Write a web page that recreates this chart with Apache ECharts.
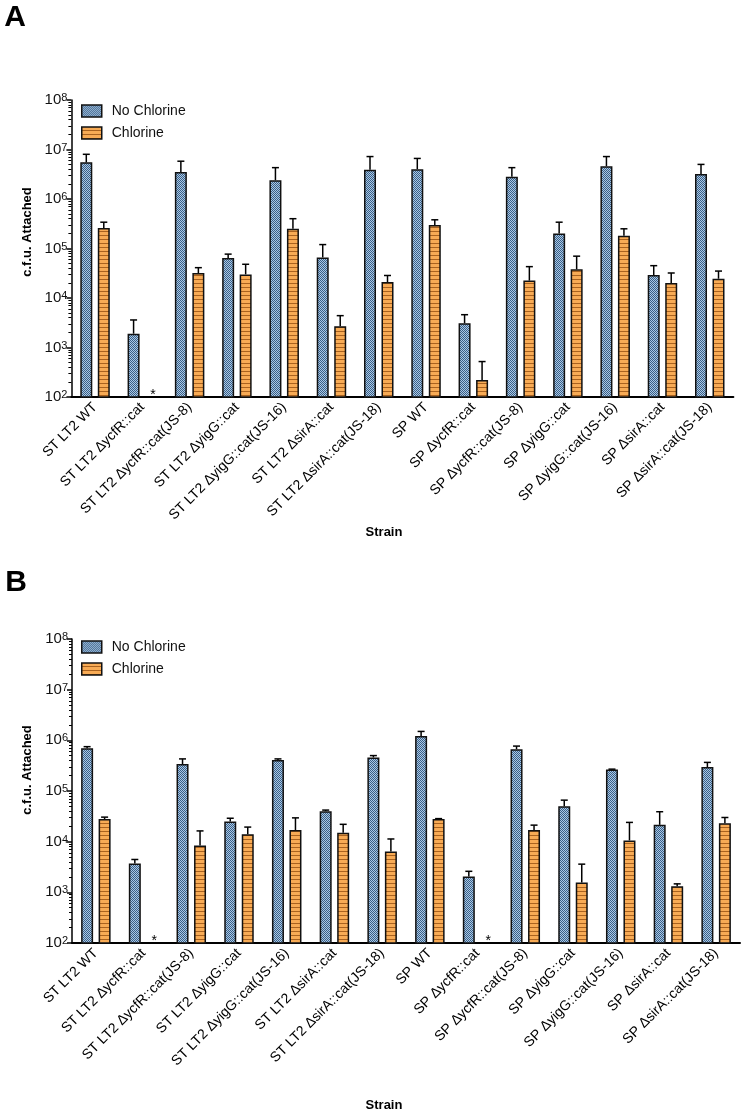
<!DOCTYPE html>
<html><head><meta charset="utf-8">
<script src="https://cdn.jsdelivr.net/npm/echarts@6/dist/echarts.min.js"></script>
<style>html,body{margin:0;padding:0;background:#fff}#c{width:744px;height:1114px}</style>
</head><body><div id="c"></div>
<script>
const categories = ['ST LT2 WT','ST LT2 ΔycfR::cat','ST LT2 ΔycfR::cat(JS-8)','ST LT2 ΔyigG::cat','ST LT2 ΔyigG::cat(JS-16)','ST LT2 ΔsirA::cat','ST LT2 ΔsirA::cat(JS-18)','SP WT','SP ΔycfR::cat','SP ΔycfR::cat(JS-8)','SP ΔyigG::cat','SP ΔyigG::cat(JS-16)','SP ΔsirA::cat','SP ΔsirA::cat(JS-18)'];
const seriesNames = ['No Chlorine', 'Chlorine'];
const yTickExponents = ['2','3','4','5','6','7','8'];
const minorTickMultipliers = [2,3,4,5,6,7,8,9];

// Panel A
const aNoChlorine    = [5.5e6, 1.9e3, 3.5e6, 6.4e4, 2.4e6, 6.6e4, 3.9e6, 4.0e6, 3.1e3, 2.8e6, 2.0e5, 4.6e6, 2.9e4, 3.2e6];
const aNoChlorineErr = [8.0e6, 3.6e3, 5.8e6, 7.7e4, 4.3e6, 1.2e5, 7.2e6, 6.6e6, 4.6e3, 4.3e6, 3.4e5, 7.2e6, 4.5e4, 5.0e6];
const aChlorine      = [2.6e5, null, 3.2e4, 3.0e4, 2.5e5, 2.7e3, 2.1e4, 3.0e5, 2.2e2, 2.25e4, 3.8e4, 1.8e5, 2.0e4, 2.45e4];
const aChlorineErr   = [3.4e5, null, 4.1e4, 4.8e4, 4.0e5, 4.4e3, 2.85e4, 3.8e5, 5.2e2, 4.3e4, 7.0e4, 2.5e5, 3.2e4, 3.5e4];
const aStars = [1];

// Panel B
const bNoChlorine    = [6.95e5, 3.7e3, 3.4e5, 2.5e4, 4.1e5, 4.0e4, 4.6e5, 1.22e6, 2.05e3, 6.7e5, 5.0e4, 2.67e5, 2.15e4, 2.97e5];
const bNoChlorineErr = [7.5e5, 4.45e3, 4.3e5, 2.9e4, 4.3e5, 4.2e4, 5.0e5, 1.5e6, 2.6e3, 7.7e5, 6.6e4, 2.7e5, 3.9e4, 3.67e5];
const bChlorine      = [2.8e4, null, 8.4e3, 1.4e4, 1.7e4, 1.5e4, 6.4e3, 2.8e4, null, 1.7e4, 1.56e3, 1.06e4, 1.32e3, 2.3e4];
const bChlorineErr   = [3.05e4, null, 1.63e4, 1.94e4, 2.95e4, 2.2e4, 1.13e4, 2.85e4, null, 2.12e4, 3.6e3, 2.4e4, 1.47e3, 3.0e4];
const bStars = [1, 8];

const FONT = '"Liberation Sans", Arial, Helvetica, sans-serif';

function makePattern(w, h, draw) {
  const c = document.createElement('canvas'); c.width = w; c.height = h;
  draw(c.getContext('2d'));
  return { image: c, repeat: 'repeat' };
}
const bluePat = makePattern(2, 2, ctx => {
  ctx.fillStyle = '#a9c8e6'; ctx.fillRect(0, 0, 2, 2);
  ctx.fillStyle = '#3b5f85'; ctx.fillRect(0, 0, 1, 1); ctx.fillRect(1, 1, 1, 1);
});
const orangePat = makePattern(1, 4, ctx => {
  ctx.fillStyle = '#f8ab55'; ctx.fillRect(0, 0, 1, 4);
  ctx.fillStyle = '#a9621f'; ctx.fillRect(0, 3, 1, 1);
});

const BAR_W = 12, BAR_GAP = 5.5, HALF = (BAR_W + BAR_GAP) / 2;

const minorLogs = [];
for (let n = 2; n < 8; n++) minorTickMultipliers.forEach(k => minorLogs.push(n + Math.log10(k)));

function errRender(offset) {
  return function (params, api) {
    const i = api.value(0), v = api.value(1), top = api.value(2);
    const p0 = api.coord([i, v]), p1 = api.coord([i, top]);
    const x = p0[0] + offset;
    const st = { stroke: '#000', lineWidth: 1.5 };
    return { type: 'group', children: [
      { type: 'line', shape: { x1: x, y1: p0[1], x2: x, y2: p1[1] }, style: st },
      { type: 'line', shape: { x1: x - 3.5, y1: p1[1], x2: x + 3.5, y2: p1[1] }, style: st }
    ]};
  };
}
function starRender(params, api) {
  const p = api.coord([api.value(0), 100]);
  return { type: 'text', x: p[0] + HALF + 2, y: p[1] - 2,
    style: { text: '*', font: '14px ' + FONT, fill: '#000', align: 'center', verticalAlign: 'middle', textAlign: 'center', textVerticalAlign: 'middle' } };
}
function errData(vals, errs) {
  const out = [];
  vals.forEach((v, i) => { if (v != null && errs[i] != null) out.push([i, v, errs[i]]); });
  return out;
}

function xAxisDef(g) {
  return { gridIndex: g, type: 'category', data: categories, boundaryGap: true,
    axisLine: { lineStyle: { color: '#000', width: 2 } },
    axisTick: { alignWithLabel: true, length: 5, lineStyle: { color: '#000', width: 1.5 } },
    axisLabel: { rotate: 45, interval: 0, fontSize: 14, color: '#000', margin: 8, fontFamily: FONT },
    splitLine: { show: false } };
}
function yAxisDefs(g) {
  return [
    { gridIndex: g, type: 'log', logBase: 10, min: 100, max: 1e8, splitNumber: 6,
      axisLine: { show: true, lineStyle: { color: '#000', width: 1.5 } },
      axisTick: { show: true, length: 5, lineStyle: { color: '#000', width: 1.5 } },
      axisLabel: { margin: 4, color: '#111',
        formatter: v => '{b|10}{s|' + yTickExponents[Math.round(Math.log10(v)) - 2] + '}',
        rich: { b: { fontSize: 15, fontFamily: FONT, color: '#111' },
                s: { fontSize: 11, fontFamily: FONT, color: '#111', verticalAlign: 'top' } } },
      splitLine: { show: false } },
    { gridIndex: g, type: 'value', min: 2, max: 8, position: 'left',
      axisLine: { show: false },
      axisTick: { show: true, length: 3, customValues: minorLogs, lineStyle: { color: '#000', width: 1 } },
      axisLabel: { show: false }, splitLine: { show: false } }
  ];
}
function panelSeries(g, nc, ncErr, c, cErr, stars) {
  const xi = g, yi = g * 2;
  return [
    { name: seriesNames[0], type: 'bar', xAxisIndex: xi, yAxisIndex: yi, data: nc, barWidth: BAR_W, barGap: (BAR_GAP / BAR_W * 100) + '%', clip: true,
      itemStyle: { color: bluePat, borderColor: '#111', borderWidth: 1.5 } },
    { name: seriesNames[1], type: 'bar', xAxisIndex: xi, yAxisIndex: yi, data: c.map(v => v == null ? '-' : v), barWidth: BAR_W, barGap: (BAR_GAP / BAR_W * 100) + '%', clip: true,
      itemStyle: { color: orangePat, borderColor: '#111', borderWidth: 1.5 } },
    { type: 'custom', xAxisIndex: xi, yAxisIndex: yi, renderItem: errRender(-HALF), data: errData(nc, ncErr), encode: { x: 0, y: 1 }, z: 5, silent: true },
    { type: 'custom', xAxisIndex: xi, yAxisIndex: yi, renderItem: errRender(HALF), data: errData(c, cErr), encode: { x: 0, y: 1 }, z: 5, silent: true },
    { type: 'custom', xAxisIndex: xi, yAxisIndex: yi, renderItem: starRender, data: stars.map(i => [i, 100]), encode: { x: 0, y: 1 }, z: 6, silent: true }
  ];
}
function legendDef(top) {
  return { data: seriesNames, orient: 'vertical', left: 81, top: top, padding: 0, itemWidth: 20, itemHeight: 12, itemGap: 8, icon: 'rect',
    itemStyle: { borderColor: '#111', borderWidth: 1.5 },
    textStyle: { fontSize: 14, color: '#111', fontFamily: FONT, lineHeight: 14, padding: [0, 0, 0, 5] }, selectedMode: false };
}
function txt(x, y, text, font, rot) {
  return { type: 'text', x: x, y: y, rotation: rot || 0,
    style: { text: text, font: font, fill: '#000', align: 'center', verticalAlign: 'middle', textAlign: 'center', textVerticalAlign: 'middle' } };
}

const chart = echarts.init(document.getElementById('c'), null, { renderer: 'canvas' });
chart.setOption({
  animation: false,
  backgroundColor: '#fff',
  grid: [
    { left: 71.4, top: 100, width: 662, height: 297, containLabel: false, outerBoundsMode: 'none' },
    { left: 72, top: 639, width: 668, height: 304, containLabel: false, outerBoundsMode: 'none' }
  ],
  xAxis: [xAxisDef(0), xAxisDef(1)],
  yAxis: [...yAxisDefs(0), ...yAxisDefs(1)],
  legend: [legendDef(104), legendDef(640)],
  series: [
    ...panelSeries(0, aNoChlorine, aNoChlorineErr, aChlorine, aChlorineErr, aStars),
    ...panelSeries(1, bNoChlorine, bNoChlorineErr, bChlorine, bChlorineErr, bStars)
  ],
  graphic: [
    txt(15, 17.5, 'A', 'bold 30px ' + FONT),
    txt(16, 583, 'B', 'bold 30px ' + FONT),
    txt(27, 232, 'c.f.u. Attached', 'bold 13px ' + FONT, Math.PI / 2),
    txt(27, 770, 'c.f.u. Attached', 'bold 13px ' + FONT, Math.PI / 2),
    txt(384, 532, 'Strain', 'bold 13px ' + FONT),
    txt(384, 1105, 'Strain', 'bold 13px ' + FONT)
  ]
});
</script></body></html>
